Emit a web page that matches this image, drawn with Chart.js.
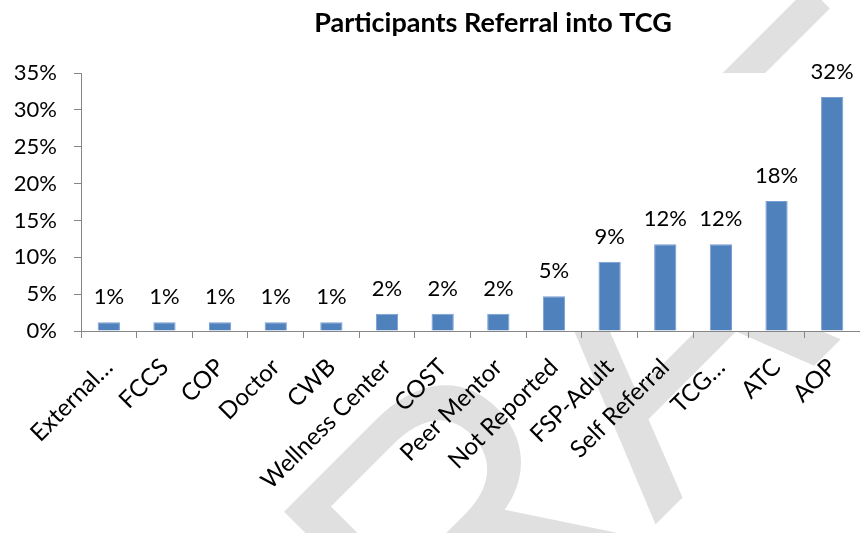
<!DOCTYPE html>
<html>
<head>
<meta charset="utf-8">
<script src="https://cdn.jsdelivr.net/npm/chart.js@4.4.1/dist/chart.umd.min.js"></script>
<style>
  html, body { margin: 0; padding: 0; background: #fff; }
  #wrap { width: 860px; height: 533px; }
</style>
</head>
<body>
<div id="wrap"><canvas id="referralChart" width="860" height="533"></canvas></div>
<script>
// Referral sources and their share of participants (%)
const sources = ['External…', 'FCCS', 'COP', 'Doctor', 'CWB', 'Wellness Center', 'COST',
  'Peer Mentor', 'Not Reported', 'FSP-Adult', 'Self Referral', 'TCG…', 'ATC', 'AOP'];
const sharePct = [1.18, 1.18, 1.18, 1.18, 1.18, 2.35, 2.35, 2.35, 4.71, 9.41, 11.76, 11.76, 17.65, 31.76];
const yTicks = [0, 5, 10, 15, 20, 25, 30, 35];

const chartTitle = 'Participants Referral into TCG';
const axisGray = '#868686';

// Page background, "DRAFT" watermark, then an opaque white plot area over it
const backdrop = {
  id: 'backdrop',
  beforeDraw(chart) {
    const { ctx, chartArea } = chart;
    ctx.save();
    ctx.fillStyle = '#ffffff';
    ctx.fillRect(0, 0, chart.width, chart.height);

    ctx.font = '395px "Liberation Sans"';
    const lead = ctx.measureText('DR').width;
    ctx.translate(655, 525);
    ctx.rotate(-Math.PI / 4);
    ctx.fillStyle = '#e0e0e0';
    ctx.textBaseline = 'alphabetic';
    ctx.fillText('DRAFT', -lead, 0);
    ctx.restore();

    ctx.save();
    ctx.fillStyle = '#ffffff';
    ctx.fillRect(chartArea.left, chartArea.top, chartArea.right - chartArea.left, chartArea.bottom - chartArea.top);
    ctx.restore();
  }
};

// Title and rounded value labels above each bar
const annotate = {
  id: 'annotate',
  afterDatasetsDraw(chart) {
    const { ctx } = chart;
    ctx.save();
    ctx.fillStyle = '#000';
    ctx.textAlign = 'center';
    ctx.textBaseline = 'alphabetic';
    ctx.font = 'bold 27px Lato';
    ctx.fillText(chartTitle, 493, 32);

    ctx.font = '22px Lato';
    const meta = chart.getDatasetMeta(0);
    meta.data.forEach((bar, i) => {
      const v = chart.data.datasets[0].data[i];
      ctx.fillText(Math.round(v) + '%', bar.x, bar.y - 18);
    });
    ctx.restore();
  }
};

new Chart(document.getElementById('referralChart'), {
  type: 'bar',
  data: {
    labels: sources,
    datasets: [{
      data: sharePct,
      backgroundColor: '#4f81bd',
      borderColor: '#7a9fd2',
      borderWidth: { left: 1, right: 1, top: 1, bottom: 0 },
      barPercentage: 0.4,
      categoryPercentage: 1.0
    }]
  },
  options: {
    responsive: false,
    animation: false,
    layout: { padding: { top: 73, right: 0, bottom: 0, left: 0 } },
    plugins: {
      legend: { display: false },
      title: { display: false },
      tooltip: { enabled: false }
    },
    scales: {
      x: {
        grid: {
          display: true,
          drawOnChartArea: false,
          drawTicks: true,
          tickLength: 7,
          offset: true,
          color: axisGray
        },
        border: { display: true, color: axisGray, width: 1 },
        ticks: {
          font: { family: 'Lato', size: 24 },
          color: '#000',
          maxRotation: 45,
          minRotation: 45,
          autoSkip: false,
          padding: 15
        },
        afterFit(scale) {
          scale.height = 202;
          scale.paddingLeft = 0;
          scale.paddingRight = 0;
        }
      },
      y: {
        min: 0,
        max: 35,
        afterBuildTicks(scale) {
          scale.ticks = yTicks.map(v => ({ value: v }));
        },
        grid: {
          display: true,
          drawOnChartArea: false,
          drawTicks: true,
          tickLength: 7,
          color: axisGray
        },
        border: { display: true, color: axisGray, width: 1 },
        ticks: {
          font: { family: 'Lato', size: 22 },
          color: '#000',
          padding: 17,
          callback: v => v + '%'
        },
        afterFit(scale) {
          scale.width = 81;
        }
      }
    }
  },
  plugins: [backdrop, annotate]
});
</script>
</body>
</html>
